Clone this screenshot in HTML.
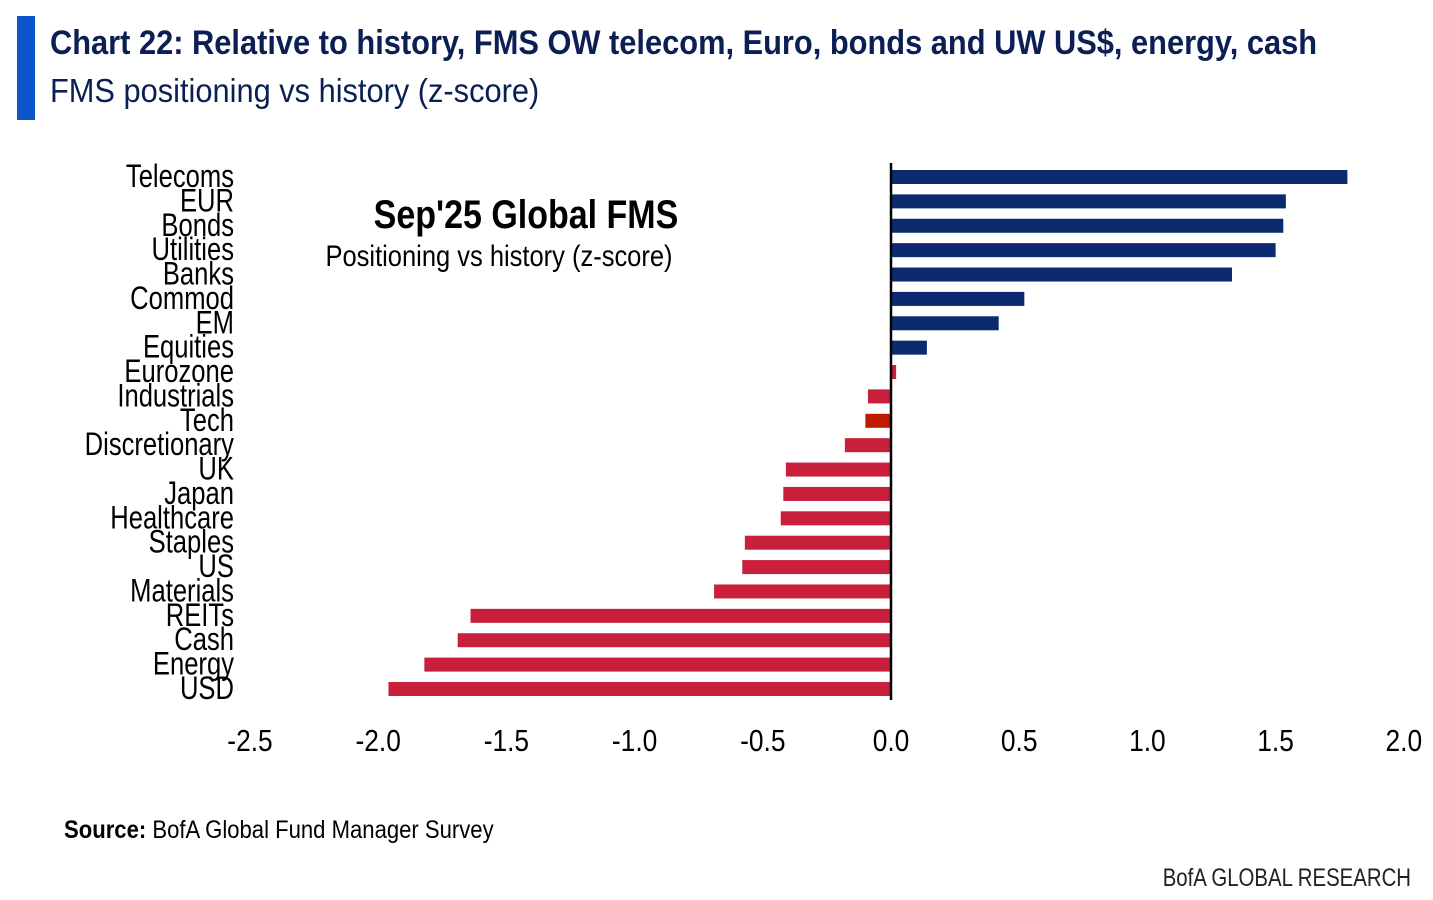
<!DOCTYPE html>
<html><head><meta charset="utf-8"><style>
body{margin:0;background:#fff;width:1433px;height:900px;overflow:hidden;font-family:"Liberation Sans",sans-serif}
</style></head><body>
<svg width="1433" height="900" style="position:absolute;left:0;top:0">
<rect x="17" y="16" width="18" height="104" fill="#0a55c8"/>
<text x="50" y="54" font-size="34" font-weight="bold" fill="#0b1f55" transform="translate(50 0) scale(0.906 1) translate(-50 0)">Chart 22: Relative to history, FMS OW telecom, Euro, bonds and UW US$, energy, cash</text>
<text x="50" y="102" font-size="33" fill="#0b1f55" transform="translate(50 0) scale(0.933 1) translate(-50 0)">FMS positioning vs history (z-score)</text>
<text x="526" y="228" font-size="40" font-weight="bold" fill="#000" text-anchor="middle" transform="translate(526 0) scale(0.85 1) translate(-526 0)">Sep'25 Global FMS</text>
<text x="499" y="266" font-size="30" fill="#000" text-anchor="middle" transform="translate(499 0) scale(0.85 1) translate(-499 0)">Positioning vs history (z-score)</text>
<g id="plot"></g>
<text x="64" y="838" font-size="25" fill="#000" transform="translate(64 0) scale(0.884 1) translate(-64 0)"><tspan font-weight="bold">Source:</tspan> BofA Global Fund Manager Survey</text>
<text x="1411" y="886" font-size="25" fill="#222" text-anchor="end" transform="translate(1411 0) scale(0.815 1) translate(-1411 0)">BofA GLOBAL RESEARCH</text>
</svg>
<script>
const categories=["Telecoms","EUR","Bonds","Utilities","Banks","Commod","EM","Equities","Eurozone","Industrials","Tech","Discretionary","UK","Japan","Healthcare","Staples","US","Materials","REITs","Cash","Energy","USD"];
const values=[1.78,1.54,1.53,1.50,1.33,0.52,0.42,0.14,0.02,-0.09,-0.10,-0.18,-0.41,-0.42,-0.43,-0.57,-0.58,-0.69,-1.64,-1.69,-1.82,-1.96];
const ticks=[-2.5,-2.0,-1.5,-1.0,-0.5,0.0,0.5,1.0,1.5,2.0];
const NS="http://www.w3.org/2000/svg";
const g=document.getElementById('plot');
const x=v=>891+v*256.4;
const y=i=>177+i*24.38;
function mk(t,a){const e=document.createElementNS(NS,t);for(const k in a)e.setAttribute(k,a[k]);g.appendChild(e);return e;}
categories.forEach((c,i)=>{
 const v=values[i];
 const r=mk('rect',{x:Math.min(x(0),x(v)),y:y(i)-7,width:Math.abs(x(v)-x(0)),height:14,fill:v>=0?(v<0.05?'#c8203a':'#0c2a6e'):(c==='Tech'?'#c01a00':'#c8203a')});
 
 
 const t=mk('text',{x:234,y:y(i)+10,'font-size':32,'text-anchor':'end',fill:'#000',transform:'translate(234 0) scale(0.8 1) translate(-234 0)'});
 t.textContent=c;
 
 
});
const ax=mk('line',{x1:x(0),x2:x(0),y1:163,y2:700,stroke:'#000','stroke-width':2.5});


ticks.forEach(v=>{
 const t=mk('text',{x:x(v),y:751,'font-size':31,'text-anchor':'middle',fill:'#000',transform:`translate(${x(v)} 0) scale(0.85 1) translate(${-x(v)} 0)`});
 t.textContent=v.toFixed(1);
 
 
});
</script>
</body></html>
